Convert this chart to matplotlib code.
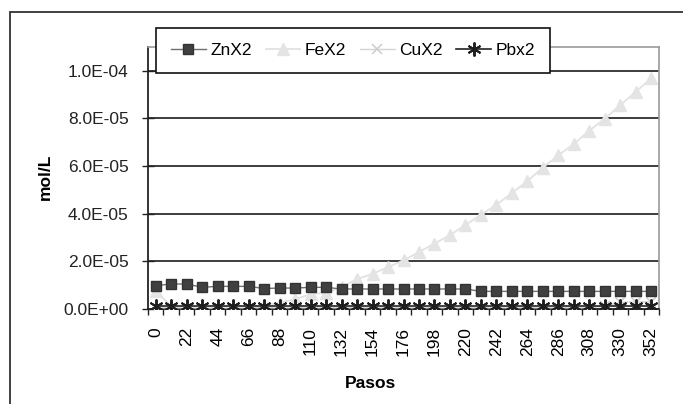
import matplotlib
matplotlib.use("Agg")
import matplotlib.pyplot as plt
from matplotlib.patches import Rectangle

plt.rcParams['font.family'] = ['Liberation Sans', 'DejaVu Sans']

pasos = [0, 11, 22, 33, 44, 55, 66, 77, 88, 99, 110, 121, 132, 143, 154, 165,
         176, 187, 198, 209, 220, 231, 242, 253, 264, 275, 286, 297, 308, 319,
         330, 341, 352]

znx2 = [9.8e-6, 10.5e-6, 10.5e-6, 9.1e-6, 9.5e-6, 9.5e-6, 9.5e-6, 8.6e-6, 8.8e-6,
        8.8e-6, 9.1e-6, 9.1e-6, 8.4e-6, 8.4e-6, 8.4e-6, 8.4e-6, 8.4e-6, 8.4e-6,
        8.4e-6, 8.4e-6, 8.4e-6, 7.4e-6, 7.4e-6, 7.4e-6, 7.4e-6, 7.4e-6, 7.4e-6,
        7.4e-6, 7.4e-6, 7.4e-6, 7.4e-6, 7.4e-6, 7.4e-6]

fex2 = [7.5e-6, 1.2e-6, 0.8e-6, 0.6e-6, 0.6e-6, 0.8e-6, 1.0e-6, 1.4e-6, 2.7e-6,
        4.1e-6, 6.2e-6, 6.9e-6, 9.1e-6, 12.6e-6, 14.7e-6, 17.6e-6, 20.4e-6,
        23.9e-6, 27.5e-6, 31.0e-6, 35.3e-6, 39.5e-6, 43.8e-6, 48.7e-6, 53.7e-6,
        59.4e-6, 64.5e-6, 69.3e-6, 74.9e-6, 79.9e-6, 85.6e-6, 91.2e-6, 96.9e-6]

cux2 = [0.5e-6] * 29 + [1.2e-6, 2.8e-6, 3.0e-6, 3.0e-6]

pbx2 = [1.2e-6] * 33

ytick_vals = [0.0, 2.0e-5, 4.0e-5, 6.0e-5, 8.0e-5, 1.0e-4]
ytick_labels = ["0.0E+00", "2.0E-05", "4.0E-05", "6.0E-05", "8.0E-05", "1.0E-04"]

W, H = 683, 404
fig = plt.figure(figsize=(W / 100, H / 100), dpi=100)

# outer chart frame
fig.patches.append(Rectangle((10 / W, -0.5), 2.0, 0.5 + (1 - 12 / H),
                             transform=fig.transFigure, fill=False,
                             edgecolor="#333333", linewidth=1.3))

left, right, top, bottom = 148, 659, 47, 309
ax = fig.add_axes([left / W, 1 - bottom / H, (right - left) / W, (bottom - top) / H])

x = list(range(len(pasos)))

ax.plot(x, cux2, color="#d4d4d4", lw=1.0, marker="x", ms=7.5, mew=1.2,
        mec="#cfcfcf", label="CuX2", zorder=3)
ax.plot(x, fex2, color="#e2e2e2", lw=1.3, marker="^", ms=9, mfc="#e4e4e4",
        mec="#e4e4e4", label="FeX2", zorder=4)
ax.plot(x, pbx2, color="#222222", lw=1.2, marker=(6, 2, 0), ms=10, mew=1.4,
        mec="#1e1e1e", label="Pbx2", zorder=4.5)
ax.plot(x, znx2, color="#707070", lw=1.0, marker="s", ms=7.5, mfc="#404040",
        mec="#333333", label="ZnX2", zorder=5)

ax.set_xlim(-0.5, len(pasos) - 0.5)
ax.set_ylim(0, 1.1e-4)

for yv in ytick_vals[1:]:
    ax.axhline(yv, color="#2e2e2e", lw=1.3, zorder=1)

ax.set_yticks(ytick_vals)
ax.set_yticklabels(ytick_labels, fontsize=12.5)
ax.tick_params(axis="y", direction="inout", length=8, width=1.0, pad=10,
               colors="#222222")

ax.set_xticks(x[::2])
ax.set_xticklabels([str(p) for p in pasos[::2]], rotation=90, fontsize=12.5,
                   va="top", ha="center")
ax.tick_params(axis="x", which="major", length=0, pad=13)
ax.set_xticks([i - 0.5 for i in range(len(pasos) + 1)], minor=True)
ax.tick_params(axis="x", which="minor", direction="out", length=4, width=1.0,
               colors="#222222")

for s in ["top", "right"]:
    ax.spines[s].set_color("#9a9a9a")
    ax.spines[s].set_linewidth(1.2)
for s in ["left", "bottom"]:
    ax.spines[s].set_color("#222222")
    ax.spines[s].set_linewidth(1.3)

fig.text(45 / W, 1 - 177 / H, "mol/L", rotation=90, fontsize=12.5,
         fontweight="bold", ha="center", va="center")
fig.text(370 / W, 1 - 383 / H, "Pasos", fontsize=12.5, fontweight="bold",
         ha="center", va="center")

handles, labels = ax.get_legend_handles_labels()
order = ["ZnX2", "FeX2", "CuX2", "Pbx2"]
hmap = dict(zip(labels, handles))
leg = fig.legend([hmap[k] for k in order], order, loc="center",
                 bbox_to_anchor=(353 / W, 1 - 50.5 / H), ncol=4, fontsize=12.5,
                 frameon=True, fancybox=False, edgecolor="#111111",
                 framealpha=1, handlelength=2.0, handletextpad=0.25,
                 columnspacing=0.8, borderpad=0.85, borderaxespad=0)
leg.get_frame().set_linewidth(1.2)
leg.set_zorder(10)

fig.savefig("out.png", dpi=100)
